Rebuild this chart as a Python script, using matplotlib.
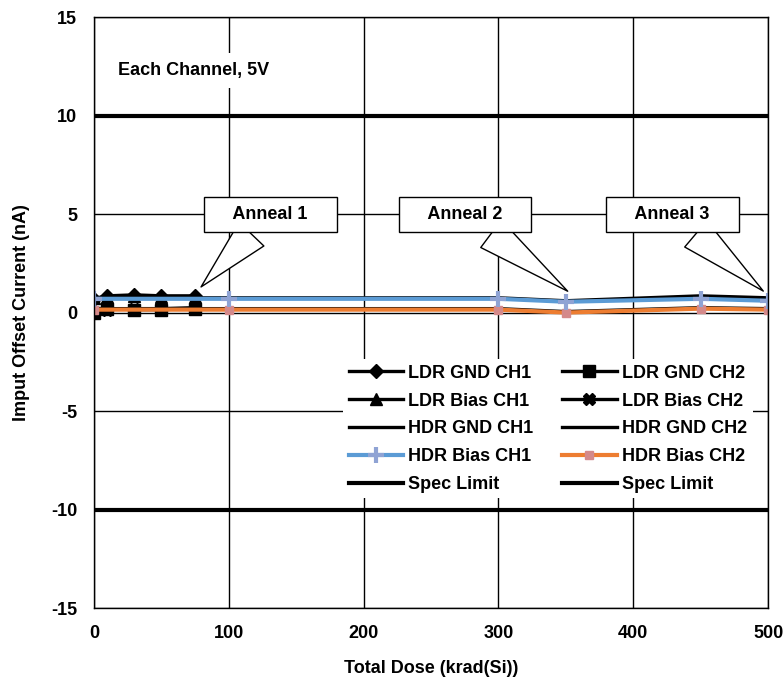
"""
Input offset current vs total dose, each channel 5V
"""
import matplotlib
matplotlib.use("Agg")
import matplotlib.pyplot as plt

plt.rcParams["font.family"] = ["Liberation Sans", "DejaVu Sans"]
plt.rcParams["font.weight"] = "bold"
plt.rcParams["axes.unicode_minus"] = False

# LDR data (krad(Si), nA)
ldr_dose = [0, 10, 30, 50, 75]
ldr_gnd_ch1 = [0.7, 0.85, 0.9, 0.85, 0.85]
ldr_bias_ch1 = [0.75, 0.8, 0.85, 0.8, 0.8]
ldr_gnd_ch2 = [0.0, 0.2, 0.15, 0.15, 0.2]
ldr_bias_ch2 = [0.05, 0.15, 0.2, 0.2, 0.25]

# HDR data
hdr_dose = [0, 100, 300, 350, 450, 500]
hdr_gnd_ch1 = [0.75, 0.75, 0.75, 0.6, 0.85, 0.75]
hdr_bias_ch1 = [0.7, 0.7, 0.7, 0.55, 0.7, 0.6]
hdr_gnd_ch2 = [0.2, 0.2, 0.2, 0.05, 0.25, 0.2]
hdr_bias_ch2 = [0.15, 0.15, 0.15, 0.0, 0.2, 0.15]

spec_dose = [0, 500]
spec_high = [10, 10]
spec_low = [-10, -10]

anneal_labels = ["Anneal 1", "Anneal 2", "Anneal 3"]
anneal_points = [(78, 1.2), (353, 1.0), (498, 1.0)]
anneal_text = [(131, 5.0), (275, 5.0), (429, 5.0)]

fig = plt.figure(figsize=(7.83, 6.84), dpi=100)
ax = fig.add_axes([0.120, 0.111, 0.861, 0.864])

lw = 2.4
h = {}
h["ldr_gnd_ch1"], = ax.plot(ldr_dose, ldr_gnd_ch1, color="black", lw=lw, marker="D", ms=7,
                            label="LDR GND CH1")
h["ldr_bias_ch1"], = ax.plot(ldr_dose, ldr_bias_ch1, color="black", lw=lw, marker="^", ms=8,
                             label="LDR Bias CH1")
h["hdr_gnd_ch1"], = ax.plot(hdr_dose, hdr_gnd_ch1, color="black", lw=lw, label="HDR GND CH1")
h["ldr_gnd_ch2"], = ax.plot(ldr_dose, ldr_gnd_ch2, color="black", lw=lw, marker="s", ms=8,
                            label="LDR GND CH2")
h["ldr_bias_ch2"], = ax.plot(ldr_dose, ldr_bias_ch2, color="black", lw=lw, marker="X", ms=9,
                             label="LDR Bias CH2")
h["hdr_gnd_ch2"], = ax.plot(hdr_dose, hdr_gnd_ch2, color="black", lw=lw, label="HDR GND CH2")
h["hdr_bias_ch2"], = ax.plot(hdr_dose, hdr_bias_ch2, color="#ED7D31", lw=3, marker="s", ms=6,
                             mfc="#D4898A", mec="#D4898A", label="HDR Bias CH2")
h["hdr_bias_ch1"], = ax.plot(hdr_dose, hdr_bias_ch1, color="#5B9BD5", lw=3, marker="+", ms=11,
                             mew=3, mec="#8FA3D4", label="HDR Bias CH1")
h["spec_high"], = ax.plot(spec_dose, spec_high, color="black", lw=3, label="Spec Limit")
h["spec_low"], = ax.plot(spec_dose, spec_low, color="black", lw=3, label="Spec Limit")

for lbl, pt, txt in zip(anneal_labels, anneal_points, anneal_text):
    ax.annotate("    " + lbl + "    ", xy=pt, xytext=txt, ha="center", va="center",
                fontsize=13, fontweight="bold", zorder=5,
                bbox=dict(boxstyle="square,pad=0.5", fc="white", ec="black", lw=1),
                arrowprops=dict(arrowstyle="wedge,tail_width=1.9,shrink_factor=0.5",
                                fc="white", ec="black", lw=1))

ax.text(18, 12.3, "Each Channel, 5V", fontsize=13, fontweight="bold", va="center",
        bbox=dict(boxstyle="square,pad=0.5", fc="white", ec="none"))

ax.set_xlim(0, 500)
ax.set_ylim(-15, 15)
ax.set_xticks(range(0, 501, 100))
ax.set_yticks(range(-15, 16, 5))
ax.grid(True, color="black", lw=1)
ax.set_axisbelow(True)
ax.tick_params(axis="x", labelsize=13, length=0, pad=12)
ax.tick_params(axis="y", labelsize=13, length=0, pad=12)
for s in ax.spines.values():
    s.set_color("black")
    s.set_linewidth(1)
ax.set_xlabel("Total Dose (krad(Si))", fontsize=13, fontweight="bold", labelpad=13)
ax.set_ylabel("Imput Offset Current (nA)", fontsize=13, fontweight="bold", labelpad=15)

order = ["ldr_gnd_ch1", "ldr_bias_ch1", "hdr_gnd_ch1", "hdr_bias_ch1", "spec_high",
         "ldr_gnd_ch2", "ldr_bias_ch2", "hdr_gnd_ch2", "hdr_bias_ch2", "spec_low"]
leg = ax.legend([h[k] for k in order], [h[k].get_label() for k in order], ncol=2,
                loc="upper left", bbox_to_anchor=(0.37, 0.421), frameon=True,
                prop=dict(size=13, weight="bold"), handlelength=3.0, handletextpad=0.3,
                columnspacing=1.6, labelspacing=0.6, borderpad=0.3, borderaxespad=0,
                facecolor="white", edgecolor="none", framealpha=1, fancybox=False)

fig.savefig("out.png", dpi=100)
